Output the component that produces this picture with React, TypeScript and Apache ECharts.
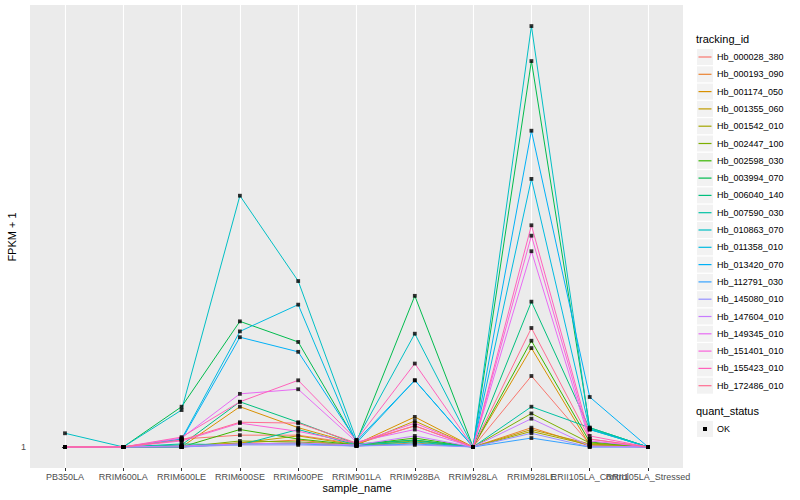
import React, { useEffect, useRef } from "react";
import * as echarts from "echarts";

const categories = [
  "PB350LA", "RRIM600LA", "RRIM600LE", "RRIM600SE", "RRIM600PE", "RRIM901LA",
  "RRIM928BA", "RRIM928LA", "RRIM928LE", "RRII105LA_Control", "RRII105LA_Stressed",
];

const trackingIds = [
  "Hb_000028_380", "Hb_000193_090", "Hb_001174_050", "Hb_001355_060", "Hb_001542_010",
  "Hb_002447_100", "Hb_002598_030", "Hb_003994_070", "Hb_006040_140", "Hb_007590_030",
  "Hb_010863_070", "Hb_011358_010", "Hb_013420_070", "Hb_112791_030", "Hb_145080_010",
  "Hb_147604_010", "Hb_149345_010", "Hb_151401_010", "Hb_155423_010", "Hb_172486_010",
];

const colors = [
  "#F8766D", "#EA8331", "#D89000", "#C09B00", "#A3A500", "#7CAE00", "#39B600", "#00BB4E",
  "#00BF7D", "#00C1A3", "#00BFC4", "#00BAE0", "#00B0F6", "#35A2FF", "#9590FF", "#C77CFF",
  "#E76BF3", "#FA62DB", "#FF62BC", "#FF6C91",
];

// FPKM + 1 per sample, in category order
const s000028 = [1, 1, 1.04, 1.06, 1.06, 1.015, 1.11, 1, 1.42, 1.015, 1];
const s000193 = [1, 1, 1, 1.02, 1.035, 1.005, 1.02, 1, 1.10, 1.005, 1];
const s001174 = [1, 1, 1, 1.22, 1.10, 1.015, 1.16, 1, 1.63, 1.01, 1];
const s001355 = [1, 1, 1.005, 1.02, 1.056, 1.01, 1.137, 1, 1.09, 1.015, 1];
const s001542 = [1, 1, 1, 1.015, 1.02, 1.005, 1.03, 1, 1.08, 1.01, 1];
const s002447 = [1, 1, 1, 1.03, 1.025, 1.01, 1.035, 1, 1.18, 1.02, 1];
const s002598 = [1, 1, 1, 1.09, 1.04, 1.01, 1.045, 1, 1.69, 1.025, 1];
const s003994 = [1, 1, 1.22, 1.86, 1.68, 1.025, 2.11, 1, 6.73, 1.10, 1];
const s006040 = [1, 1, 1.01, 1.25, 1.13, 1.015, 1.035, 1, 2.05, 1.093, 1];
const s007590 = [1, 1, 1.015, 1.01, 1.09, 1.01, 1.025, 1, 1.22, 1.10, 1];
const s010863 = [1.07, 1, 1.20, 3.46, 2.27, 1.035, 1.75, 1, 8.0, 1.09, 1];
const s011358 = [1, 1, 1.04, 1.77, 2.02, 1.02, 1.39, 1, 3.76, 1.09, 1];
const s013420 = [1, 1, 1.035, 1.72, 1.60, 1.03, 1.39, 1, 4.77, 1.28, 1];
const s112791 = [1, 1, 1, 1.015, 1.015, 1.005, 1.015, 1, 1.045, 1, 1];
const s145080 = [1, 1, 1, 1.01, 1.01, 1.005, 1.01, 1, 1.07, 1, 1];
const s147604 = [1, 1, 1.005, 1.015, 1.02, 1.01, 1.056, 1, 1.15, 1.005, 1];
const s149345 = [1, 1, 1.045, 1.30, 1.33, 1.025, 1.09, 1, 2.63, 1.03, 1];
const s151401 = [1, 1, 1.03, 1.125, 1.08, 1.02, 1.125, 1, 2.84, 1.04, 1];
const s155423 = [1, 1, 1.05, 1.25, 1.39, 1.035, 1.51, 1, 2.99, 1.056, 1];
const s172486 = [1, 1, 1.035, 1.13, 1.125, 1.02, 1.11, 1, 1.80, 1.04, 1];

const seriesValues = [
  s000028, s000193, s001174, s001355, s001542, s002447, s002598, s003994, s006040, s007590,
  s010863, s011358, s013420, s112791, s145080, s147604, s149345, s151401, s155423, s172486,
];

const yTicks = [1];
const yMin = 0.9013;
const yMax = 8.877;

const FONT = "'Liberation Sans', Arial, Helvetica, sans-serif";

export default function App() {
  const ref = useRef<HTMLDivElement>(null);

  useEffect(() => {
    if (!ref.current) return;
    const chart = echarts.init(ref.current, null, { renderer: "svg" });

    const lineSeries = seriesValues.map((vals, k) => ({
      type: "line",
      name: trackingIds[k],
      xAxisIndex: 0,
      data: vals.map((v, i) => [i, v]),
      showSymbol: false,
      symbol: "none",
      lineStyle: { color: colors[k], width: 1 },
      itemStyle: { color: colors[k] },
      z: 2,
      silent: true,
    }));

    const pointData: number[][] = [];
    seriesValues.forEach((vals) => vals.forEach((v, i) => pointData.push([i, v])));

    const legendTop = 57;
    const legendStep = 17.3;
    const legendGraphics: any[] = [
      {
        type: "text",
        left: 696,
        top: 33,
        style: { text: "tracking_id", fontSize: 11, fontFamily: FONT, fill: "#000" },
      },
    ];
    trackingIds.forEach((id, k) => {
      const cy = legendTop + k * legendStep;
      legendGraphics.push({
        type: "rect",
        shape: { x: 697, y: cy - 8, width: 16, height: 16 },
        style: { fill: "#F2F2F2" },
      });
      legendGraphics.push({
        type: "line",
        shape: { x1: 698.5, y1: cy, x2: 711.5, y2: cy },
        style: { stroke: colors[k], lineWidth: 1.2 },
      });
      legendGraphics.push({
        type: "text",
        x: 717,
        y: cy,
        style: {
          text: id,
          fontSize: 9,
          fontFamily: FONT,
          fill: "#000",
          verticalAlign: "middle",
          align: "left",
        },
      });
    });
    legendGraphics.push({
      type: "text",
      left: 696,
      top: 405,
      style: { text: "quant_status", fontSize: 11, fontFamily: FONT, fill: "#000" },
    });
    legendGraphics.push({
      type: "rect",
      shape: { x: 697, y: 421, width: 16, height: 16 },
      style: { fill: "#F2F2F2" },
    });
    legendGraphics.push({
      type: "rect",
      shape: { x: 703, y: 427, width: 4, height: 4 },
      style: { fill: "#000" },
    });
    legendGraphics.push({
      type: "text",
      x: 717,
      y: 429,
      style: {
        text: "OK",
        fontSize: 9,
        fontFamily: FONT,
        fill: "#000",
        verticalAlign: "middle",
        align: "left",
      },
    });
    legendGraphics.push({
      type: "text",
      x: 12,
      y: 237,
      rotation: Math.PI / 2,
      style: {
        text: "FPKM + 1",
        fontSize: 11,
        fontFamily: FONT,
        fill: "#000",
        align: "center",
        verticalAlign: "middle",
      },
    });
    legendGraphics.push({
      type: "text",
      x: 357,
      y: 488,
      style: {
        text: "sample_name",
        fontSize: 11,
        fontFamily: FONT,
        fill: "#000",
        align: "center",
        verticalAlign: "middle",
      },
    });

    const xTickValues = categories.map((_, i) => i);
    const evenValues = xTickValues.filter((i) => i % 2 === 0);
    const oddValues = xTickValues.filter((i) => i % 2 === 1);

    const labelFormatter = (v: number) => {
      const i = Math.round(v);
      return Math.abs(v - i) < 1e-6 && categories[i] ? categories[i] : "";
    };

    const baseLabel = {
      show: true,
      color: "#4D4D4D",
      fontSize: 9,
      fontFamily: FONT,
      margin: 4,
      showMinLabel: true,
      showMaxLabel: true,
      hideOverlap: false,
      formatter: labelFormatter,
    };

    chart.setOption({
      animation: false,
      backgroundColor: "#FFFFFF",
      textStyle: { fontFamily: FONT },
      grid: {
        left: 30,
        right: 117,
        top: 5,
        bottom: 32,
        show: true,
        backgroundColor: "#EBEBEB",
        borderWidth: 0,
        borderColor: "transparent",
      },
      xAxis: [
        {
          type: "value",
          position: "bottom",
          min: -0.6,
          max: 10.6,
          minInterval: 1,
          maxInterval: 1,
          axisLine: { show: false },
          axisTick: {
            show: true,
            length: 3,
            lineStyle: { color: "#333333", width: 1 },
            customValues: xTickValues,
          },
          axisLabel: { ...baseLabel, customValues: evenValues },
          splitLine: {
            show: true,
            lineStyle: { color: "#FFFFFF", width: 1.1 },
          },
        },
        {
          type: "value",
          position: "bottom",
          offset: 0,
          min: -0.6,
          max: 10.6,
          minInterval: 1,
          maxInterval: 1,
          axisLine: { show: false },
          axisTick: { show: false },
          axisLabel: { ...baseLabel, customValues: oddValues },
          splitLine: { show: false },
        },
      ],
      yAxis: {
        type: "log",
        logBase: 10,
        min: yMin,
        max: yMax,
        axisLine: { show: false },
        axisTick: {
          show: true,
          length: 3,
          lineStyle: { color: "#333333", width: 1 },
          customValues: yTicks,
        },
        axisLabel: {
          show: true,
          color: "#4D4D4D",
          fontSize: 9,
          fontFamily: FONT,
          margin: 4,
          customValues: yTicks,
          formatter: (v: number) => (Math.abs(v - 1) < 1e-6 ? "1" : ""),
        },
        splitLine: {
          show: true,
          showMinLine: false,
          showMaxLine: false,
          lineStyle: { color: "#FFFFFF", width: 1.1 },
        },
      },
      series: [
        ...lineSeries,
        {
          type: "scatter",
          name: "OK",
          xAxisIndex: 0,
          data: pointData,
          symbol: "rect",
          symbolSize: 3.8,
          itemStyle: { color: "#000000" },
          z: 5,
          silent: true,
        },
      ],
      graphic: legendGraphics,
    });

    return () => {
      chart.dispose();
    };
  }, []);

  return (
    <div
      ref={ref}
      style={{ position: "fixed", left: 0, top: 0, width: 800, height: 500 }}
    />
  );
}
